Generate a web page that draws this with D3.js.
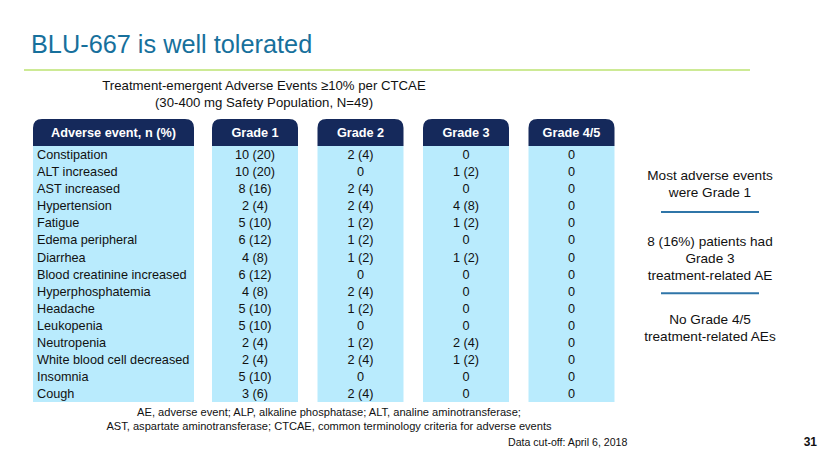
<!DOCTYPE html>
<html><head><meta charset="utf-8">
<script src="https://cdn.jsdelivr.net/npm/d3@7"></script>
<style>html,body{margin:0;padding:0;background:#fff;}svg{display:block;font-family:"Liberation Sans",Arial,sans-serif;}</style>
</head><body>
<svg id="c" width="830" height="467"></svg>
<script>
const events = ["Constipation","ALT increased","AST increased","Hypertension","Fatigue","Edema peripheral","Diarrhea","Blood creatinine increased","Hyperphosphatemia","Headache","Leukopenia","Neutropenia","White blood cell decreased","Insomnia","Cough"];
const grades = ["Grade 1","Grade 2","Grade 3","Grade 4/5"];
const grade1 = ["10 (20)","10 (20)","8 (16)","2 (4)","5 (10)","6 (12)","4 (8)","6 (12)","4 (8)","5 (10)","5 (10)","2 (4)","2 (4)","5 (10)","3 (6)"];
const grade2 = ["2 (4)","0","2 (4)","2 (4)","1 (2)","1 (2)","1 (2)","0","2 (4)","1 (2)","0","1 (2)","2 (4)","0","2 (4)"];
const grade3 = ["0","1 (2)","0","4 (8)","1 (2)","0","1 (2)","0","0","0","0","2 (4)","1 (2)","0","0"];
const grade45 = ["0","0","0","0","0","0","0","0","0","0","0","0","0","0","0"];
const firstHeader = "Adverse event, n (%)";
const titleText = "BLU-667 is well tolerated";
const subtitle = ["Treatment-emergent Adverse Events \u226510% per CTCAE","(30-400 mg Safety Population, N=49)"];
const notes = [["Most adverse events","were Grade 1"],["8 (16%) patients had","Grade 3","treatment-related AE"],["No Grade 4/5","treatment-related AEs"]];
const footnotes = ["AE, adverse event; ALP, alkaline phosphatase; ALT, analine aminotransferase;","AST, aspartate aminotransferase; CTCAE, common terminology criteria for adverse events"];
const cutoff = "Data cut-off: April 6, 2018";
const pageNum = "31";

const gradeValues = [grade1, grade2, grade3, grade45];

const svg = d3.select("#c");
const navy = "#15295b", light = "#b9ebfd", teal = "#17709c";

// title
svg.append("text").attr("x",31).attr("y",52.5).attr("font-size",25.3).attr("fill",teal).text(titleText);
svg.append("line").attr("x1",24).attr("x2",750).attr("y1",70).attr("y2",70).attr("stroke","#cdea95").attr("stroke-width",2);

// subtitle
svg.selectAll("text.sub").data(subtitle).join("text").attr("class","sub")
  .attr("x",264).attr("y",(d,i)=>90+i*16.5).attr("text-anchor","middle").attr("font-size",13.2).attr("fill","#111").text(d=>d);

// scales
const headTop = 119, headBot = 146, bodyBot = 402;
const y = d3.scaleBand().domain(events).range([headBot, bodyBot]);
const xg = d3.scaleBand().domain(grades).range([212, 614.5]).paddingInner(19.5/105.5);
const col0 = {x:33, w:161};

function headPath(x, w) {
  const r = 9, t = headTop, b = headBot;
  return `M${x},${b}V${t+r}Q${x},${t} ${x+r},${t}H${x+w-r}Q${x+w},${t} ${x+w},${t+r}V${b}Z`;
}

// first column
svg.append("rect").attr("x",col0.x).attr("y",headBot).attr("width",col0.w).attr("height",bodyBot-headBot).attr("fill",light);
svg.append("path").attr("d",headPath(col0.x,col0.w)).attr("fill",navy);
svg.append("text").attr("x",col0.x+col0.w/2).attr("y",(headTop+headBot)/2).attr("dy","0.36em").attr("text-anchor","middle")
  .attr("font-size",12.7).attr("font-weight","bold").attr("fill","#fff").text(firstHeader);
svg.selectAll("text.ev").data(events).join("text").attr("class","ev")
  .attr("x",col0.x+4).attr("y",d=>y(d)+y.bandwidth()/2).attr("dy","0.36em").attr("font-size",12.7).attr("fill","#111").text(d=>d);

// grade columns
grades.forEach((g,gi)=>{
  const x0 = xg(g), w = xg.bandwidth();
  svg.append("rect").attr("x",x0).attr("y",headBot).attr("width",w).attr("height",bodyBot-headBot).attr("fill",light);
  svg.append("path").attr("d",headPath(x0,w)).attr("fill",navy);
  svg.append("text").attr("x",x0+w/2).attr("y",(headTop+headBot)/2).attr("dy","0.36em").attr("text-anchor","middle")
    .attr("font-size",12.7).attr("font-weight","bold").attr("fill","#fff").text(g);
  svg.append("g").selectAll("text").data(gradeValues[gi]).join("text")
    .attr("x",x0+w/2).attr("y",(d,i)=>y(events[i])+y.bandwidth()/2).attr("dy","0.36em").attr("text-anchor","middle")
    .attr("font-size",12.7).attr("fill","#111").text(d=>d);
});

// right notes
const noteY = [[175,191.7],[240.7,257.7,274.7],[319.3,336]];
notes.forEach((lines,ni)=>{
  lines.forEach((l,li)=>{
    svg.append("text").attr("x",710).attr("y",noteY[ni][li]).attr("dy","0.36em").attr("text-anchor","middle")
      .attr("font-size",13.6).attr("fill","#111").text(l);
  });
});
[212,293.3].forEach(yy=>svg.append("line").attr("x1",661).attr("x2",759).attr("y1",yy).attr("y2",yy).attr("stroke","#2f75a8").attr("stroke-width",2));

// footnotes
svg.selectAll("text.fn").data(footnotes).join("text").attr("class","fn")
  .attr("x",329).attr("y",(d,i)=>411.7+i*14.5).attr("dy","0.36em").attr("text-anchor","middle").attr("font-size",11.1).attr("fill","#111").text(d=>d);
svg.append("text").attr("x",508).attr("y",441.7).attr("dy","0.36em").attr("font-size",10.6).attr("fill","#111").text(cutoff);
svg.append("text").attr("x",817).attr("y",441.5).attr("dy","0.36em").attr("text-anchor","end").attr("font-size",12).attr("font-weight","bold").attr("fill","#111").text(pageNum);
</script>
</body></html>
